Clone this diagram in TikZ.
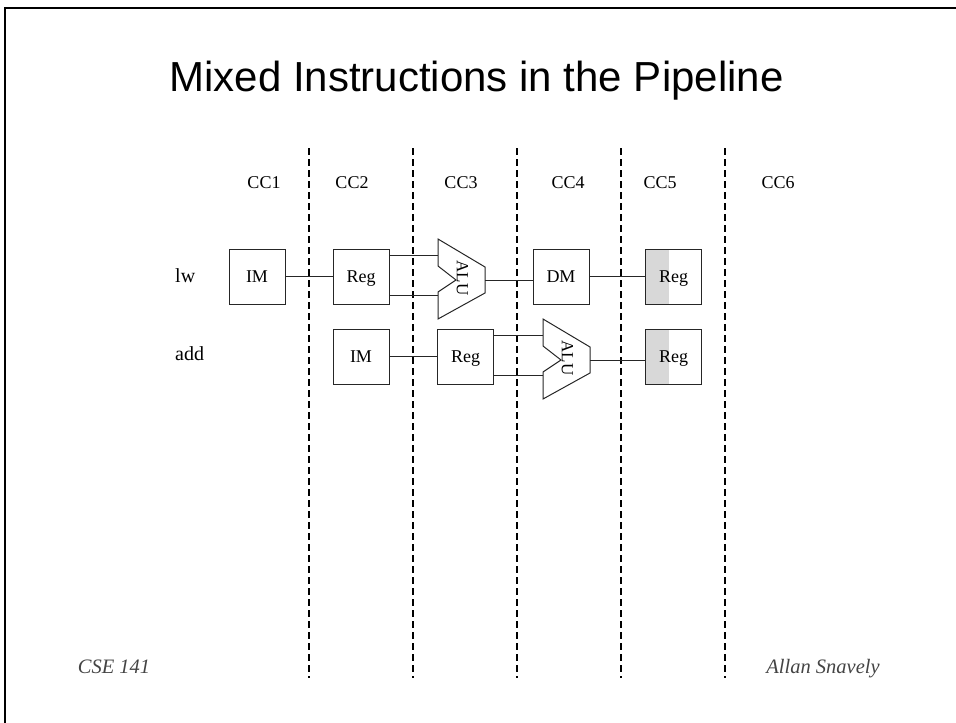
\documentclass[tikz,border=0pt]{standalone}
\usepackage{fontspec}
\setmainfont{Liberation Serif}
\newfontfamily\headfont{Liberation Sans}
\usetikzlibrary{positioning, calc}

\definecolor{regshade}{RGB}{216, 216, 216}
\definecolor{footgray}{RGB}{68, 68, 68}

% ALU outline with a notch on the left; #1 = name, #2 = centre
\newcommand{\aluunit}[2]{%
  \coordinate (#1) at #2;
  \draw[unitline] ($(#1)+(-23.5,-40)$) -- ($(#1)+(23.5,-12)$) -- ($(#1)+(23.5,14)$)
    -- ($(#1)+(-23.5,40)$) -- ($(#1)+(-23.5,13)$) -- ($(#1)+(-5.5,1)$)
    -- ($(#1)+(-23.5,-13)$) -- cycle;
  \coordinate (#1-in1) at ($(#1)+(-23.5,-24)$);
  \coordinate (#1-in2) at ($(#1)+(-23.5,16)$);
  \coordinate (#1-out) at ($(#1)+(23.5,1)$);
  \node[font=\fontsize{17}{17}\selectfont, rotate=-90, inner sep=0pt] (#1-txt) at ($(#1)+(1,-1)$) {ALU};
}

\begin{document}
\begin{tikzpicture}[x=1pt, y=-1pt,
  unitline/.style={line width=1pt, draw=black!85},
  unitbox/.style={unitline, draw, minimum width=56pt, minimum height=55pt, inner sep=0pt, text height=12pt, text depth=0pt, font=\fontsize{18}{18}\selectfont},
  wbox/.style={unitbox, path picture={\fill[regshade] (path picture bounding box.south west) rectangle ([xshift=23pt]path picture bounding box.north west);}},
  cycline/.style={line width=1.1pt, dash pattern=on 7pt off 4pt},
  cclabel/.style={font=\fontsize{18}{18}\selectfont, anchor=base},
  instr/.style={font=\fontsize{20}{20}\selectfont, anchor=base west, inner sep=0pt},
  foot/.style={font=\fontsize{20.5}{20.5}\selectfont\itshape, text=footgray, anchor=base}
]
  \useasboundingbox (0,0) rectangle (956,723);

  % slide frame
  \draw[line width=2.5pt] (5,723) -- (5,8) -- (956,8);

  \node[font=\headfont\fontsize{42}{42}\selectfont, anchor=base] (title) at (476.5,91) {Mixed Instructions in the Pipeline};

  % clock cycle boundaries and labels
  \foreach \x in {309, 413, 517, 621, 725}
    \draw[cycline] (\x,148) -- (\x,678);
  \foreach \x/\n in {264/1, 352/2, 461/3, 568/4, 660/5, 778/6}
    \node[cclabel] (cc\n) at (\x,188) {CC\n};

  % lw
  \node[instr] (lw) at (175,282) {lw};
  \node[unitbox] (im1) at (257,276.5) {IM};
  \node[unitbox] (reg1) at (361,276.5) {Reg};
  \aluunit{alu1}{(461.5,279)}
  \node[unitbox] (dm1) at (561,276.5) {DM};
  \node[wbox] (wb1) at (673.5,276.5) {Reg};

  % add
  \node[instr] (add) at (175,360) {add};
  \node[unitbox] (im2) at (361,356.5) {IM};
  \node[unitbox] (reg2) at (465.5,356.5) {Reg};
  \aluunit{alu2}{(566.5,359)}
  \node[wbox] (wb2) at (673.5,356.5) {Reg};

  % datapath wires
  \draw[unitline] (im1) -- (reg1);
  \draw[unitline] (alu1-in1 -| reg1.east) -- (alu1-in1);
  \draw[unitline] (alu1-in2 -| reg1.east) -- (alu1-in2);
  \draw[unitline] (alu1-out) -- (alu1-out -| dm1.west);
  \draw[unitline] (dm1) -- (wb1);

  \draw[unitline] (im2) -- (reg2);
  \draw[unitline] (alu2-in1 -| reg2.east) -- (alu2-in1);
  \draw[unitline] (alu2-in2 -| reg2.east) -- (alu2-in2);
  \draw[unitline] (alu2-out) -- (alu2-out -| wb2.west);

  % footer
  \node[foot] (course) at (114,673) {CSE 141};
  \node[foot] (author) at (823,673) {Allan Snavely};
\end{tikzpicture}
\end{document}
